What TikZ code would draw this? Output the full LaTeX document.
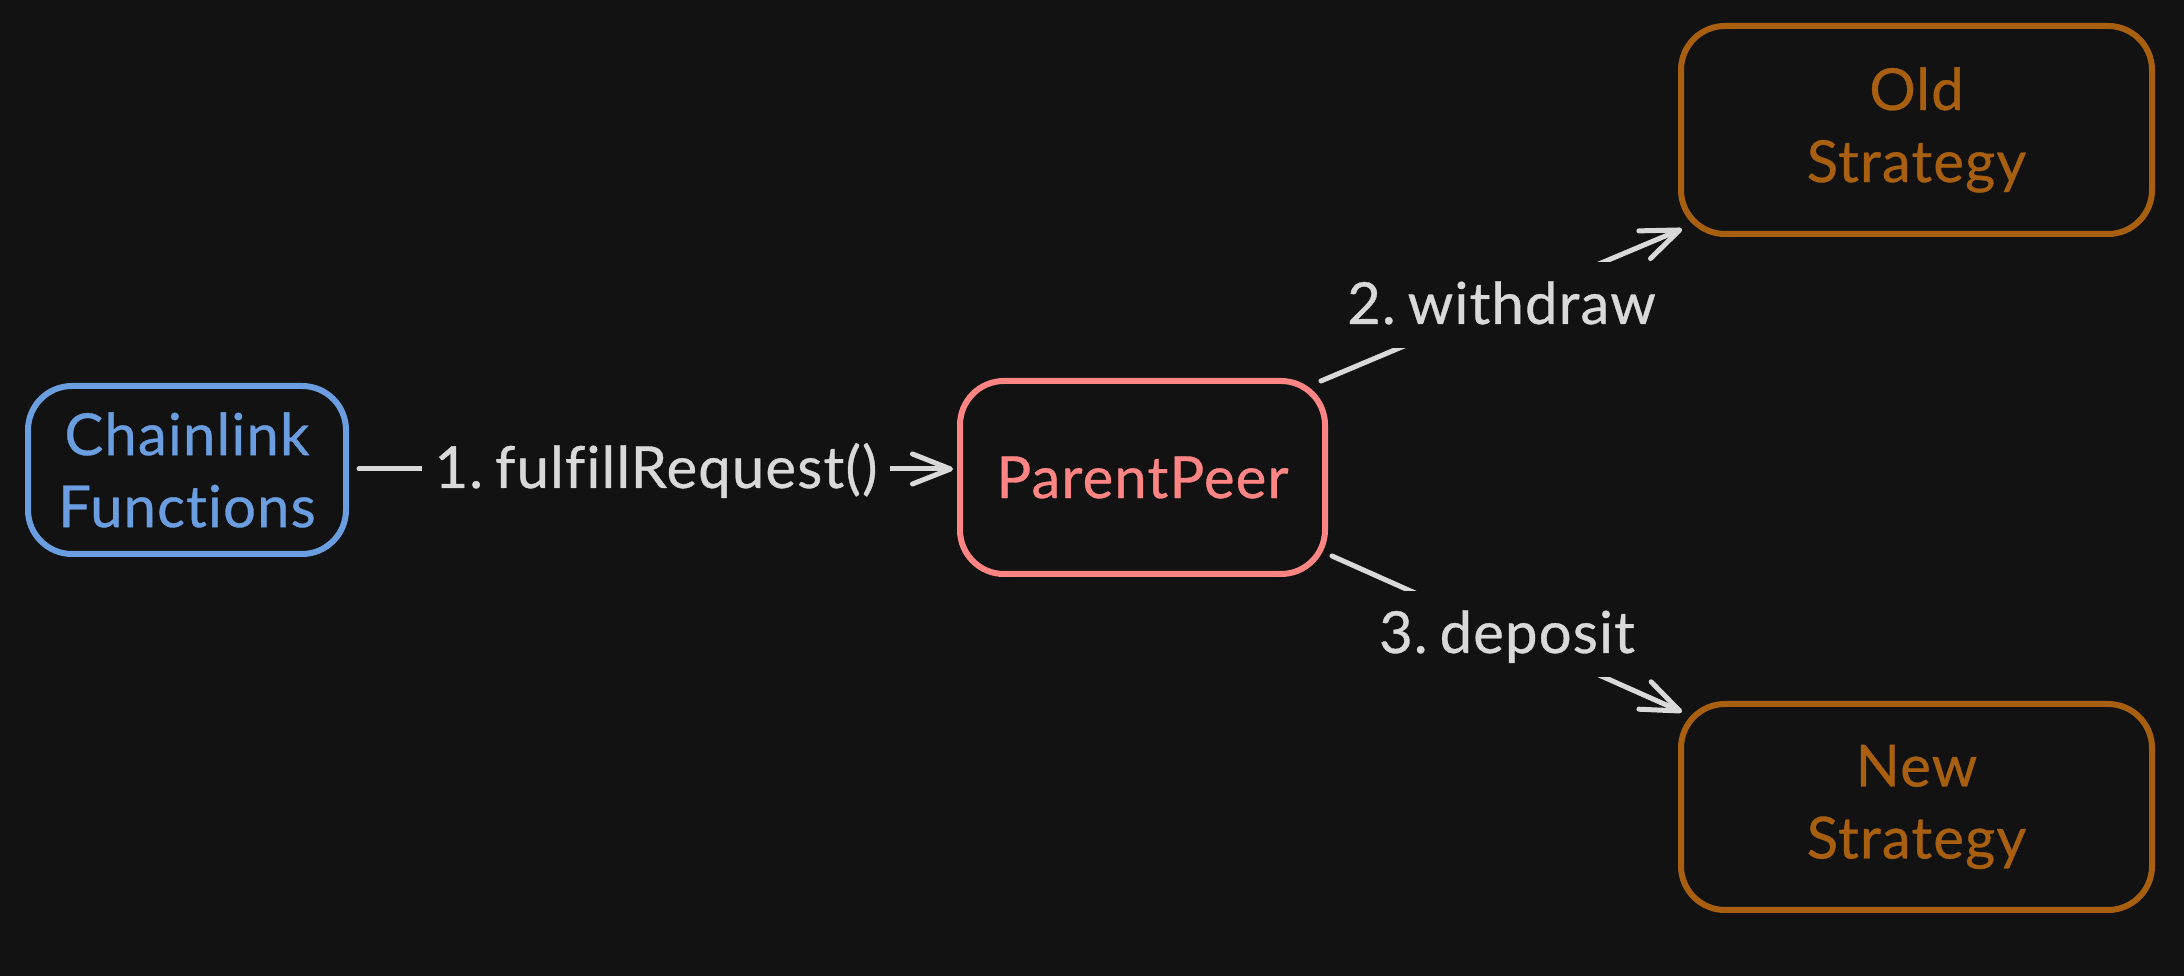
\documentclass[tikz,border=0pt]{standalone}
\usepackage{fontspec}
\setmainfont{Lato}[Ligatures=NoCommon, LetterSpace=2, UprightFeatures={FakeBold=0.6}]
\usetikzlibrary{arrows.meta,calc}
\definecolor{bg}{HTML}{121212}
\definecolor{cblue}{HTML}{6A9EE0}
\definecolor{cred}{HTML}{FF8585}
\definecolor{corange}{HTML}{A85F10}
\definecolor{cgray}{HTML}{D9D9D9}
\tikzset{
  box/.style={draw, line width=6pt, rounded corners=44pt, fill=bg,
    inner sep=0pt, align=center, font=\fontsize{58pt}{72pt}\selectfont},
  edge/.style={draw=cgray, line width=5pt, line cap=round,
    -{Straight Barb[length=38pt,width=30pt,round]}},
  lbl/.style={fill=bg, text=cgray, font=\fontsize{58pt}{72pt}\selectfont,
    text height=50pt, text depth=12pt, inner xsep=13pt, inner ysep=12pt}
}
\begin{document}
\begin{tikzpicture}[x=1pt,y=1pt]
\fill[bg] (0,0) rectangle (2184,976);
\useasboundingbox (0,0) rectangle (2184,976);

\node[box, draw=cblue, text=cblue, minimum width=318pt, minimum height=168pt]
  (cl) at (187,506) {Chainlink\\Functions};
\node[box, draw=cred, text=cred, minimum width=365pt, minimum height=193pt]
  (pp) at (1142.5,498.5) {ParentPeer};
\node[box, draw=corange, text=corange, minimum width=471pt, minimum height=208pt]
  (old) at (1916.5,846) {Old\\Strategy};
\node[box, draw=corange, text=corange, minimum width=471pt, minimum height=206pt]
  (new) at (1916.5,169) {New\\Strategy};

\coordinate (e1s) at ($(cl.east)+(10,1)$);
\coordinate (e1t) at ($(pp.west)+(-4,8.5)$);
\coordinate (e2s) at ($(pp.north east)+(-7,-3)$);
\coordinate (e2t) at ($(old.south west)+(4,8)$);
\coordinate (e3s) at ($(pp.south east)+(4,21)$);
\coordinate (e3t) at ($(new.north west)+(4,-11)$);

\draw[edge] (e1s) -- node[lbl] {1.\kern-4pt\ fulfillRequest()} (e1t);
\draw[edge] (e2s) -- node[lbl] {2.\kern-4pt\ withdraw} (e2t);
\draw[edge] (e3s) -- node[lbl] {3.\kern-4pt\ deposit} (e3t);
\end{tikzpicture}
\end{document}
